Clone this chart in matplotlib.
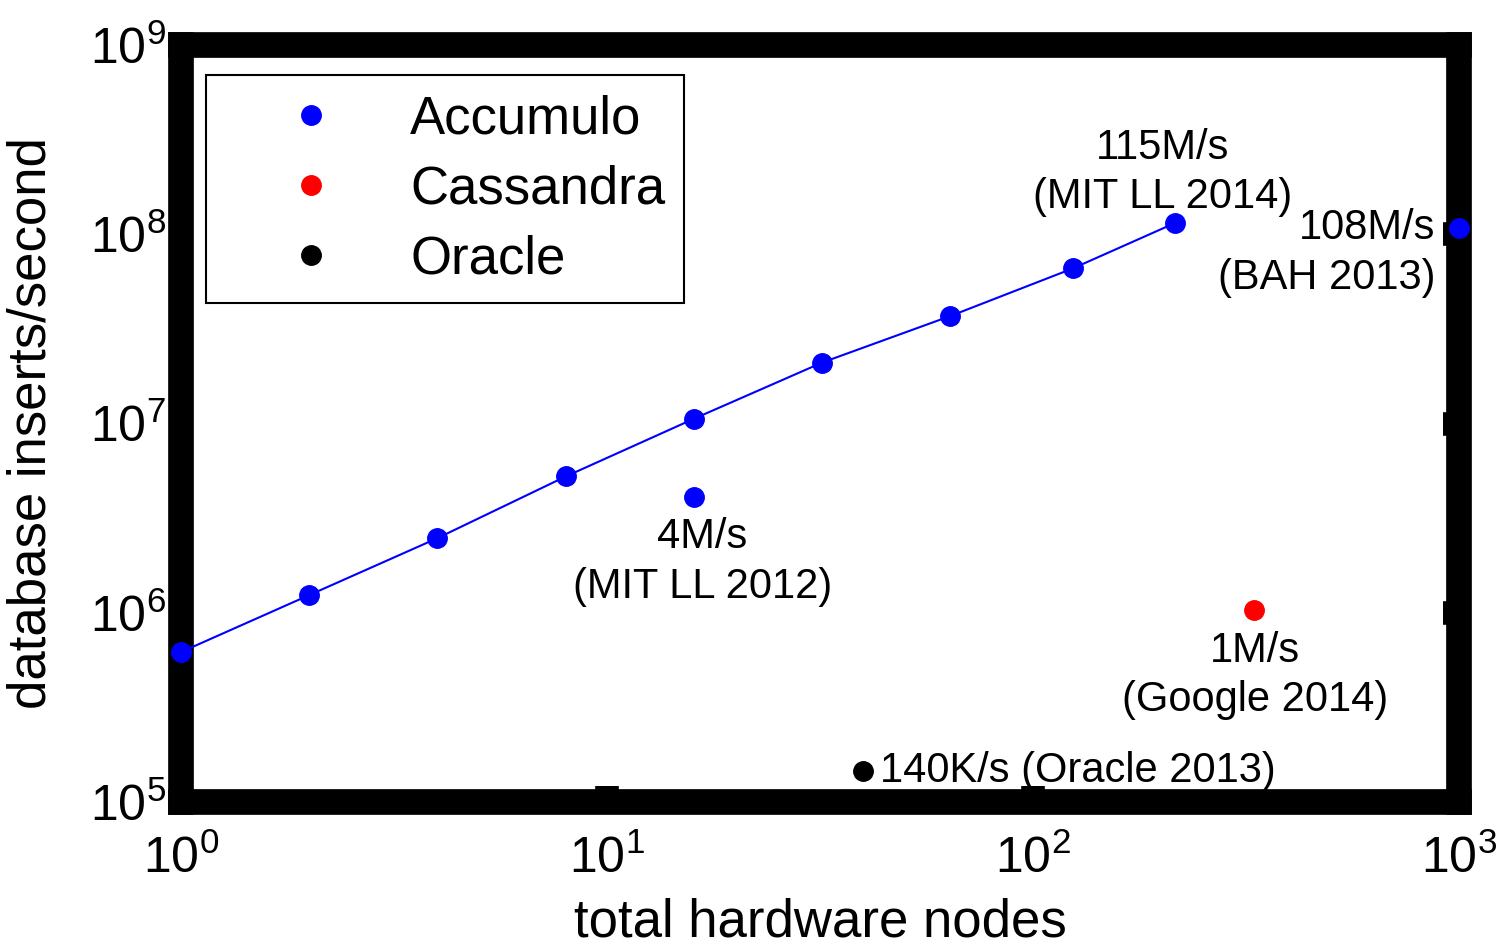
import matplotlib
matplotlib.use("Agg")
import matplotlib.pyplot as plt
from matplotlib.lines import Line2D

plt.rcParams['font.family'] = ['Liberation Sans', 'DejaVu Sans']
plt.rcParams['mathtext.fontset'] = 'custom'
plt.rcParams['mathtext.rm'] = 'Liberation Sans'
plt.rcParams['mathtext.it'] = 'Liberation Sans:italic'
plt.rcParams['mathtext.bf'] = 'Liberation Sans:bold'

# Accumulo scaling run (MIT LL 2014)
accumulo_nodes = [1, 2, 4, 8, 16, 32, 64, 124, 216]
accumulo_rate = [0.62e6, 1.24e6, 2.48e6, 5.25e6, 10.6e6, 21.0e6, 37.0e6, 66.0e6, 115e6]

# single Accumulo results
accumulo_other_nodes = [16, 1000]
accumulo_other_rate = [4.1e6, 108e6]

cassandra_nodes = [330]
cassandra_rate = [1.03e6]

oracle_nodes = [40]
oracle_rate = [1.45e5]

annot_labels = ["115M/s\n(MIT LL 2014)", "108M/s\n(BAH 2013)", "4M/s\n(MIT LL 2012)",
                "1M/s\n(Google 2014)", "140K/s (Oracle 2013)"]
annot_nodes = [216, 1000, 16, 330, 40]
annot_rate = [115e6, 108e6, 4.1e6, 1.03e6, 1.45e5]

legend_labels = ["Accumulo", "Cassandra", "Oracle"]
legend_colors = ["#0000ff", "#ff0000", "#000000"]

fig = plt.figure(figsize=(15.06, 9.48), dpi=100)
ax = fig.add_axes([0.1202, 0.154, 0.8486, 0.7985])

ms = 14
ax.plot(accumulo_nodes, accumulo_rate, color="#0000ff", lw=1.5, marker="o", ms=ms,
        clip_on=False, zorder=4)
ax.plot(accumulo_other_nodes, accumulo_other_rate, ls="none", color="#0000ff", marker="o",
        ms=ms, clip_on=False, zorder=4)
ax.plot(cassandra_nodes, cassandra_rate, ls="none", color="#ff0000", marker="o", ms=ms,
        clip_on=False, zorder=4)
ax.plot(oracle_nodes, oracle_rate, ls="none", color="#000000", marker="o", ms=ms,
        clip_on=False, zorder=4)

ax.set_xscale("log")
ax.set_yscale("log")
ax.set_xlim(1, 1000)
ax.set_ylim(1e5, 1e9)
ax.set_xticks([1, 10, 100, 1000])
ax.set_yticks([1e5, 1e6, 1e7, 1e8, 1e9])
ax.minorticks_off()

# offsets in points, alignment per annotation
offsets = [(-9, 36), (-17, -18), (6, -47), (1, -47), (12, 0)]
aligns = ["center", "right", "center", "center", "left"]
for lab, x, y, off, ha in zip(annot_labels, annot_nodes, annot_rate, offsets, aligns):
    ax.annotate(lab, xy=(x, y), xytext=off, textcoords="offset points",
                ha=ha, va="center", multialignment=ha, fontsize=30,
                linespacing=1.3, zorder=5)

for side in ["left", "right", "top", "bottom"]:
    ax.spines[side].set_linewidth(18.5)
    ax.spines[side].set_color("black")

ax.tick_params(axis="both", which="major", direction="in", length=11.5, width=17,
               labelsize=36, top=False, right=True, left=True, bottom=True)
ax.tick_params(axis="y", which="major", left=False, pad=11)
ax.tick_params(axis="x", which="major", pad=24)

ax.set_xlabel("total hardware nodes", fontsize=38, labelpad=10)
ax.set_ylabel("database inserts/second", fontsize=38, labelpad=24)

handles = [Line2D([], [], ls="none", marker="o", ms=ms, color=c) for c in legend_colors]
leg = ax.legend(handles, legend_labels, loc="upper left", bbox_to_anchor=(0.0196, 0.960),
                borderaxespad=0, fontsize=38, frameon=True, fancybox=False,
                edgecolor="black", framealpha=1, borderpad=0.36, labelspacing=0.38,
                handlelength=3.26, handletextpad=0.25)
leg.get_frame().set_linewidth(1.5)
leg.set_zorder(6)

fig.savefig("out.png", dpi=100)
